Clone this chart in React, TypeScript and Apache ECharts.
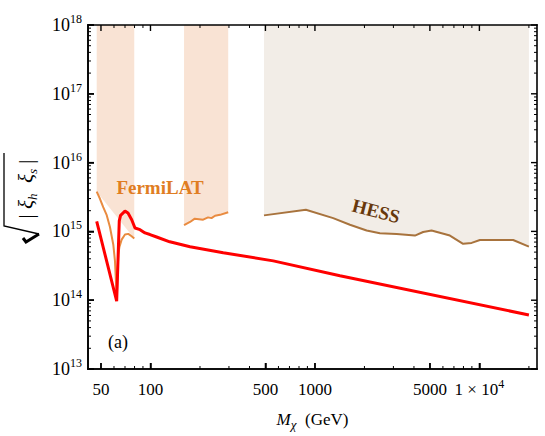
import React, { useEffect, useRef } from "react";
import * as echarts from "echarts";

// ---- tick values ----
const xMajorTicks = [50, 100, 500, 1000, 5000, 10000];
const xMinorTicks = [60, 70, 80, 90, 200, 300, 400, 600, 700, 800, 900, 2000, 3000, 4000, 6000, 7000, 8000, 9000, 20000];
const yMajorExponents = [13, 14, 15, 16, 17, 18];
const yMinorMultipliers = [2, 3, 4, 5, 6, 7, 8, 9];

// ---- data (M_chi in GeV, sqrt|xi_h xi_s|) ----
const redMass = [47.1, 62.3, 64.6, 65.8, 70.0, 73.0, 76.9, 80.5, 86.4, 92.6, 99.3, 109, 131, 174, 277, 558, 1419, 20000];
const redCoupling = [1.4e15, 9.7e13, 1.42e15, 1.71e15, 1.97e15, 1.85e15, 1.48e15, 1.12e15, 1.06e15, 9.5e14, 9.0e14, 8.3e14, 7.06e14, 5.98e14, 4.91e14, 3.73e14, 2.27e14, 6.1e13];

const fermiMass1 = [47.1, 49.3, 51.6, 54.2, 56.7, 59.4, 60.8, 61.7, 62.3, 63.0, 63.7, 64.8, 66.8, 70.0, 73.3, 76.8, 79.7];
const fermiCoupling1 = [3.78e15, 2.98e15, 2.25e15, 1.72e15, 1.16e15, 6.46e14, 3.77e14, 1.82e14, 1.0e14, 2.15e14, 4.6e14, 6.0e14, 7.6e14, 9.0e14, 9.2e14, 8.5e14, 7.9e14];

const fermiBandMass1 = [47.1, 79.7];
const fermiBandCoupling1 = [3.78e15, 7.9e14];

const fermiMass2 = [160, 174, 186, 209, 224, 235, 247, 265, 297];
const fermiCoupling2 = [1.23e15, 1.37e15, 1.53e15, 1.48e15, 1.6e15, 1.56e15, 1.69e15, 1.74e15, 1.9e15];

const hessMass = [490, 881, 1291, 1632, 2062, 2483, 3139, 4054, 4550, 5118, 6616, 7962, 8970, 10070, 12730, 16040, 20000];
const hessCoupling = [1.71e15, 2.06e15, 1.56e15, 1.25e15, 1.03e15, 9.4e14, 9.2e14, 8.7e14, 9.8e14, 1.03e15, 8.7e14, 6.6e14, 6.8e14, 7.5e14, 7.5e14, 7.5e14, 6.0e14];

const FONT = "'Liberation Serif', 'DejaVu Serif', serif";
const X_MIN_GEV = 41.7;
const X_MAX_GEV = 22400;
const Y_MIN_EXP = 13;
const Y_MAX_EXP = 18;

const lg = (v: number) => Math.log10(v);
const zipLog = (a: number[], b: number[]) => a.map((v, i) => [lg(v), lg(b[i])]);

export default function App() {
  const ref = useRef<HTMLDivElement>(null);

  useEffect(() => {
    if (!ref.current) return;
    const chart = echarts.init(ref.current, null, { renderer: "svg" });

    const xLo = lg(X_MIN_GEV);
    const xHi = lg(X_MAX_GEV);
    const xMajorLog = xMajorTicks.map(lg);
    const xMinorLog = xMinorTicks.map(lg);
    const yMinorLog: number[] = [];
    for (let k = 0; k < yMajorExponents.length - 1; k++) {
      for (const m of yMinorMultipliers) yMinorLog.push(yMajorExponents[k] + lg(m));
    }

    const option: any = {
      animation: false,
      grid: { left: 88, right: 8, top: 25, bottom: 63 },
      xAxis: [
        {
          type: "value",
          min: xLo,
          max: xHi,
          position: "bottom",
          splitLine: { show: false },
          axisLine: { show: true, onZero: false, lineStyle: { color: "#000", width: 1.6 } },
          axisTick: { show: true, inside: true, length: 6, customValues: xMajorLog, lineStyle: { color: "#000", width: 1.5 } },
          axisLabel: {
            customValues: xMajorLog,
            margin: 9,
            formatter: (v: number) => {
              const g = Math.round(Math.pow(10, v));
              return g === 10000 ? "{b|1 × 10}{sup|4}" : `{b|${g}}`;
            },
            rich: {
              b: { fontSize: 17, fontFamily: FONT, color: "#000", lineHeight: 22 },
              sup: { fontSize: 12, fontFamily: FONT, color: "#000", verticalAlign: "top", lineHeight: 12 },
            },
          },
          name: "{i|M}{s|χ}{b|  (GeV)}",
          nameLocation: "middle",
          nameGap: 38,
          nameTextStyle: {
            rich: {
              i: { fontSize: 17, fontStyle: "italic", fontFamily: FONT, color: "#000", lineHeight: 24 },
              s: { fontSize: 13, fontStyle: "italic", fontFamily: FONT, color: "#000", verticalAlign: "bottom", lineHeight: 13 },
              b: { fontSize: 17, fontFamily: FONT, color: "#000", lineHeight: 24 },
            },
          },
        },
      ],
      yAxis: [
        {
          type: "value",
          min: Y_MIN_EXP,
          max: Y_MAX_EXP,
          interval: 1,
          position: "left",
          splitLine: { show: false },
          axisLine: { show: true, onZero: false, lineStyle: { color: "#000", width: 1.6 } },
          axisTick: { show: true, inside: true, length: 6, lineStyle: { color: "#000", width: 1.5 } },
          axisLabel: {
            margin: 6,
            formatter: (v: number) => `{b|10}{sup|${Math.round(v)}}`,
            rich: {
              b: { fontSize: 18, fontFamily: FONT, color: "#000", lineHeight: 24 },
              sup: { fontSize: 12, fontFamily: FONT, color: "#000", verticalAlign: "top", lineHeight: 12 },
            },
          },
        },
      ],
      series: [
        {
          type: "line",
          name: "FermiLAT band",
          data: zipLog(fermiBandMass1, fermiBandCoupling1),
          symbol: "none",
          lineStyle: { width: 0, color: "#f9e3d4" },
          areaStyle: { color: "#f9e3d4", opacity: 1, origin: "end" },
          z: 1,
        },
        {
          type: "line",
          name: "FermiLAT 2",
          data: zipLog(fermiMass2, fermiCoupling2),
          symbol: "none",
          lineStyle: { width: 2, color: "#e98b40" },
          areaStyle: { color: "#f9e3d4", opacity: 1, origin: "end" },
          z: 2,
        },
        {
          type: "line",
          name: "HESS",
          data: zipLog(hessMass, hessCoupling),
          symbol: "none",
          lineStyle: { width: 2, color: "#a8733d" },
          areaStyle: { color: "#f2ede7", opacity: 1, origin: "end" },
          z: 2,
        },
        {
          type: "line",
          name: "FermiLAT 1",
          data: zipLog(fermiMass1, fermiCoupling1),
          symbol: "none",
          lineStyle: { width: 2, color: "#e98b40" },
          z: 3,
        },
        {
          type: "line",
          name: "bound",
          data: zipLog(redMass, redCoupling),
          symbol: "none",
          lineStyle: { width: 3, color: "#ff0000" },
          z: 4,
        },
      ],
    };

    chart.setOption(option);

    // frame and tick marks as thin filled bars, placed through the grid's own scales
    const px = (x: number, y: number) => chart.convertToPixel({ gridIndex: 0 }, [x, y]) as number[];
    const bar = (x: number, y: number, w: number, h: number) => ({
      type: "rect",
      z: 20,
      shape: { x, y, width: w, height: h },
      style: { fill: "#000" },
    });
    const bl = px(xLo, Y_MIN_EXP);
    const tr = px(xHi, Y_MAX_EXP);
    const fw = 1.6;
    const marks: any[] = [
      bar(bl[0] - fw / 2, tr[1] - fw / 2, tr[0] - bl[0] + fw, fw),
      bar(bl[0] - fw / 2, bl[1] - fw / 2, tr[0] - bl[0] + fw, fw),
      bar(bl[0] - fw / 2, tr[1] - fw / 2, fw, bl[1] - tr[1] + fw),
      bar(tr[0] - fw / 2, tr[1] - fw / 2, fw, bl[1] - tr[1] + fw),
    ];
    const addX = (vals: number[], len: number, w: number) => {
      for (const v of vals) {
        const b = px(v, Y_MIN_EXP);
        const t = px(v, Y_MAX_EXP);
        marks.push(bar(b[0] - w / 2, b[1] - len, w, len));
        marks.push(bar(t[0] - w / 2, t[1], w, len));
      }
    };
    const addY = (vals: number[], len: number, w: number) => {
      for (const v of vals) {
        const l = px(xLo, v);
        const r = px(xHi, v);
        marks.push(bar(l[0], l[1] - w / 2, len, w));
        marks.push(bar(r[0] - len, r[1] - w / 2, len, w));
      }
    };
    addX(xMajorLog, 6, 1.4);
    addX(xMinorLog, 3, 1);
    addY(yMajorExponents, 6, 1.4);
    addY(yMinorLog, 3, 1);

    const labels: any[] = [
      {
        type: "text",
        x: 160,
        y: 187,
        z: 10,
        style: {
          text: "FermiLAT",
          fill: "#e07d22",
          fontSize: 19,
          fontWeight: "bold",
          fontFamily: FONT,
          textAlign: "center",
          textVerticalAlign: "middle",
          align: "center",
          verticalAlign: "middle",
        },
      },
      {
        type: "text",
        x: 376,
        y: 211,
        rotation: -0.25,
        z: 10,
        style: {
          text: "HESS",
          fill: "#67380c",
          fontSize: 19,
          fontWeight: "bold",
          fontFamily: FONT,
          textAlign: "center",
          textVerticalAlign: "middle",
          align: "center",
          verticalAlign: "middle",
        },
      },
      {
        type: "text",
        x: 118,
        y: 342,
        z: 10,
        style: {
          text: "(a)",
          fill: "#000",
          fontSize: 18,
          fontFamily: FONT,
          textAlign: "center",
          textVerticalAlign: "middle",
          align: "center",
          verticalAlign: "middle",
        },
      },
      {
        type: "text",
        x: 26,
        y: 189,
        rotation: Math.PI / 2,
        z: 10,
        style: {
          text: "{b||}{x| ξ}{s|h}{x|  ξ}{s|s}{b| |}",
          fill: "#000",
          fontFamily: FONT,
          fontSize: 21,
          textAlign: "center",
          textVerticalAlign: "middle",
          align: "center",
          verticalAlign: "middle",
          rich: {
            b: { fontSize: 21, fontFamily: FONT, fill: "#000", lineHeight: 26 },
            x: { fontSize: 21, fontStyle: "italic", fontFamily: FONT, fill: "#000", lineHeight: 26 },
            s: { fontSize: 13, fontStyle: "italic", fontFamily: FONT, fill: "#000", lineHeight: 13, verticalAlign: "bottom" },
          },
        },
      },
      {
        type: "polyline",
        z: 10,
        shape: { points: [[4, 153], [4, 226], [39, 234]] },
        style: { stroke: "#000", lineWidth: 1.3, fill: "none" },
      },
      {
        type: "polyline",
        z: 10,
        shape: { points: [[39, 234], [26, 242], [23, 238]] },
        style: { stroke: "#000", lineWidth: 3, fill: "none" },
      },
    ];

    chart.setOption({ graphic: [...labels, ...marks] });
    return () => chart.dispose();
  }, []);

  return <div ref={ref} style={{ position: "absolute", left: 0, top: 0, width: 545, height: 436 }} />;
}
